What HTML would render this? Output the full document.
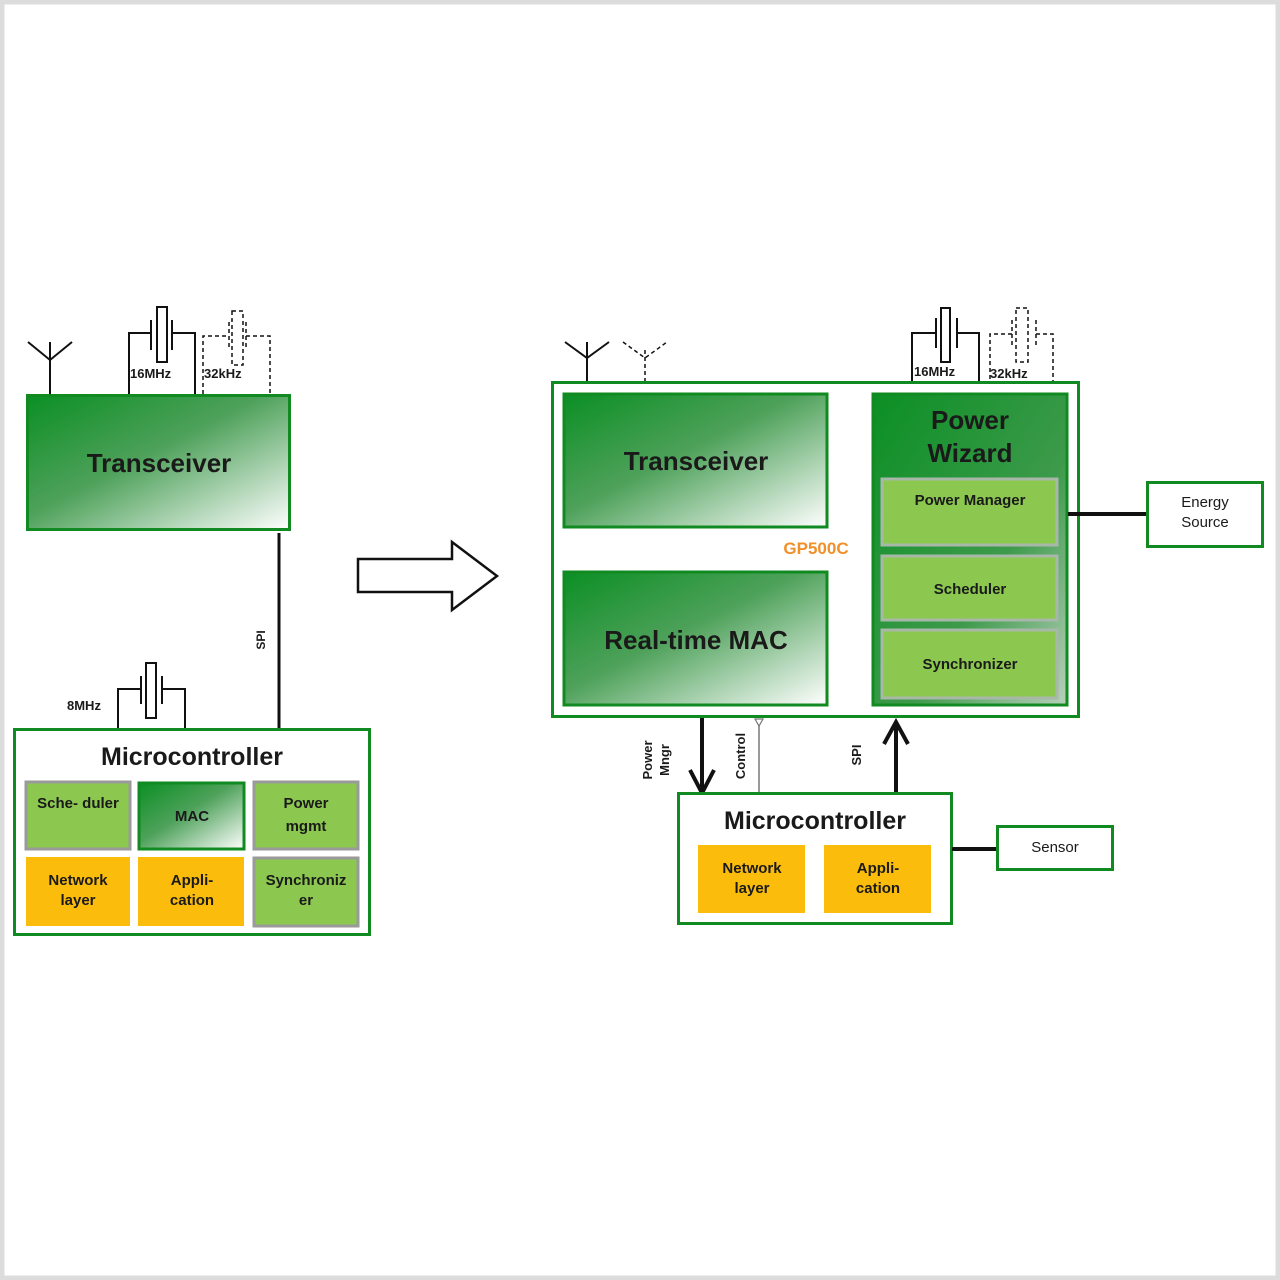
<!DOCTYPE html>
<html><head><meta charset="utf-8"><style>
html,body{margin:0;padding:0;background:#fff}
svg{display:block}
text{font-family:"Liberation Sans",sans-serif;font-weight:bold;fill:#1a1a1a}
</style></head><body>
<svg width="1280" height="1280" viewBox="0 0 1280 1280" xmlns="http://www.w3.org/2000/svg">
<defs>
<linearGradient id="g" x1="0" y1="0" x2="1" y2="1">
<stop offset="0" stop-color="#0b8f24"/><stop offset="0.45" stop-color="#4ea15a"/><stop offset="1" stop-color="#ffffff"/>
</linearGradient>
<linearGradient id="pw" x1="0" y1="0" x2="1" y2="1">
<stop offset="0" stop-color="#0b8f24"/><stop offset="0.6" stop-color="#3d9a4b"/><stop offset="1" stop-color="#b8d0bb"/>
</linearGradient>
</defs>
<rect x="2" y="2" width="1276" height="1276" fill="#fff" stroke="#dcdcdc" stroke-width="5"/>

<!-- LEFT -->
<!-- antenna -->
<g stroke="#111" stroke-width="2" fill="none">
<polyline points="28,342 50,360 72,342"/><line x1="50" y1="342" x2="50" y2="394"/>
<polyline points="129,394 129,333 151,333"/><polyline points="172,333 195,333 195,394"/>
<line x1="151" y1="320" x2="151" y2="350"/><line x1="172" y1="320" x2="172" y2="350"/>
<rect x="157" y="307" width="10" height="55"/>
</g>
<g stroke="#111" stroke-width="1.5" fill="none" stroke-dasharray="4,3">
<polyline points="203,394 203,336 229,336"/><polyline points="246,336 270,336 270,394"/>
<line x1="229" y1="322" x2="229" y2="350"/><line x1="246" y1="322" x2="246" y2="350"/>
<rect x="232" y="311" width="11" height="54"/>
</g>
<text x="130" y="378" font-size="13">16MHz</text>
<text x="204" y="378" font-size="13">32kHz</text>
<rect x="27.5" y="395.5" width="262" height="134" fill="url(#g)" stroke="#128a22" stroke-width="3"/>
<text x="159" y="472" font-size="26" text-anchor="middle">Transceiver</text>
<!-- SPI -->
<line x1="279" y1="533" x2="279" y2="729" stroke="#111" stroke-width="3"/>
<text transform="translate(265,640) rotate(-90)" font-size="12" text-anchor="middle">SPI</text>
<!-- 8MHz -->
<g stroke="#111" stroke-width="2" fill="none">
<polyline points="118,729 118,689 141,689"/><polyline points="162,689 185,689 185,729"/>
<line x1="141" y1="676" x2="141" y2="704"/><line x1="162" y1="676" x2="162" y2="704"/>
<rect x="146" y="663" width="10" height="55"/>
</g>
<text x="67" y="710" font-size="13">8MHz</text>
<rect x="14.5" y="729.5" width="355" height="205" fill="#fff" stroke="#128a22" stroke-width="3"/>
<text x="192" y="765" font-size="25" text-anchor="middle">Microcontroller</text>
<g stroke="#9a9a9a" stroke-width="3">
<rect x="26" y="782" width="104" height="67" fill="#8cc850"/>
<rect x="254" y="782" width="104" height="67" fill="#8cc850"/>
<rect x="254" y="858" width="104" height="68" fill="#8cc850"/>
</g>
<rect x="139" y="783" width="105" height="66" fill="url(#g)" stroke="#128a22" stroke-width="3"/>
<rect x="26" y="857" width="104" height="69" fill="#fbbc0c"/>
<rect x="138" y="857" width="106" height="69" fill="#fbbc0c"/>
<g font-size="15" text-anchor="middle">
<text x="78" y="808">Sche- duler</text>
<text x="192" y="821">MAC</text>
<text x="306" y="808">Power</text><text x="306" y="831">mgmt</text>
<text x="78" y="885">Network</text><text x="78" y="905">layer</text>
<text x="192" y="885">Appli-</text><text x="192" y="905">cation</text>
<text x="306" y="885">Synchroniz</text><text x="306" y="905">er</text>
</g>

<!-- big arrow -->
<polygon points="358,559 452,559 452,542 497,576 452,610 452,592 358,592" fill="#fff" stroke="#111" stroke-width="2.5"/>

<!-- RIGHT -->
<g stroke="#111" stroke-width="2" fill="none">
<polyline points="565,342 587,358 609,342"/><line x1="587" y1="342" x2="587" y2="381"/>
<polyline points="912,393 912,333 936,333"/><polyline points="957,333 979,333 979,393"/>
<line x1="936" y1="318" x2="936" y2="348"/><line x1="957" y1="318" x2="957" y2="348"/>
<rect x="941" y="308" width="9" height="54"/>
</g>
<g stroke="#111" stroke-width="1.5" fill="none" stroke-dasharray="4,3">
<polyline points="623,342 645,358 667,342"/><line x1="645" y1="350" x2="645" y2="381"/>
<polyline points="990,393 990,334 1012,334"/><polyline points="1036,334 1053,334 1053,393"/>
<line x1="1012" y1="320" x2="1012" y2="348"/><line x1="1036" y1="320" x2="1036" y2="348"/>
<rect x="1016" y="308" width="12" height="54"/>
</g>
<text x="914" y="376" font-size="13">16MHz</text>
<text x="990" y="378" font-size="13">32kHz</text>
<rect x="552.5" y="382.5" width="526" height="334" fill="#fff" stroke="#128a22" stroke-width="3"/>
<rect x="564" y="394" width="263" height="133" fill="url(#g)" stroke="#128a22" stroke-width="3"/>
<text x="696" y="470" font-size="26" text-anchor="middle">Transceiver</text>
<rect x="564" y="572" width="263" height="133" fill="url(#g)" stroke="#128a22" stroke-width="3"/>
<text x="696" y="649" font-size="26" text-anchor="middle">Real-time MAC</text>
<text x="816" y="554" font-size="17" fill="#f08a1c" style="fill:#f0902a" text-anchor="middle">GP500C</text>
<rect x="873" y="394" width="194" height="311" fill="url(#pw)" stroke="#128a22" stroke-width="3"/>
<text x="970" y="429" font-size="26" text-anchor="middle">Power</text>
<text x="970" y="462" font-size="26" text-anchor="middle">Wizard</text>
<g stroke="#a8b8a8" stroke-width="3" fill="#8cc850">
<rect x="882" y="479" width="175" height="66"/>
<rect x="882" y="556" width="175" height="64"/>
<rect x="882" y="630" width="175" height="68"/>
</g>
<g font-size="15" text-anchor="middle">
<text x="970" y="505">Power  Manager</text>
<text x="970" y="594">Scheduler</text>
<text x="970" y="669">Synchronizer</text>
</g>
<line x1="1068" y1="514" x2="1147" y2="514" stroke="#111" stroke-width="4"/>
<rect x="1147.5" y="482.5" width="115" height="64" fill="#fff" stroke="#128a22" stroke-width="3"/>
<text x="1205" y="507" font-size="15" text-anchor="middle" style="font-weight:normal">Energy</text>
<text x="1205" y="527" font-size="15" text-anchor="middle" style="font-weight:normal">Source</text>

<!-- connectors bottom -->
<line x1="702" y1="718" x2="702" y2="793" stroke="#111" stroke-width="4"/>
<polyline points="690,770 702,793 714,770" stroke="#111" stroke-width="4" fill="none"/>
<line x1="759" y1="724" x2="759" y2="793" stroke="#777" stroke-width="1.5"/>
<polygon points="755,719 763,719 759,726" fill="#fff" stroke="#777" stroke-width="1.2"/>
<line x1="896" y1="722" x2="896" y2="793" stroke="#111" stroke-width="4"/>
<polyline points="884,744 896,722 908,744" stroke="#111" stroke-width="4" fill="none"/>
<text transform="translate(652,760) rotate(-90)" font-size="13" text-anchor="middle">Power</text>
<text transform="translate(669,760) rotate(-90)" font-size="13" text-anchor="middle">Mngr</text>
<text transform="translate(745,756) rotate(-90)" font-size="13" text-anchor="middle">Control</text>
<text transform="translate(861,755) rotate(-90)" font-size="13" text-anchor="middle">SPI</text>

<rect x="678.5" y="793.5" width="273" height="130" fill="#fff" stroke="#128a22" stroke-width="3"/>
<text x="815" y="829" font-size="25" text-anchor="middle">Microcontroller</text>
<rect x="698" y="845" width="107" height="68" fill="#fbbc0c"/>
<rect x="824" y="845" width="107" height="68" fill="#fbbc0c"/>
<g font-size="15" text-anchor="middle">
<text x="752" y="873">Network</text><text x="752" y="893">layer</text>
<text x="878" y="873">Appli-</text><text x="878" y="893">cation</text>
</g>
<line x1="952" y1="849" x2="997" y2="849" stroke="#111" stroke-width="4"/>
<rect x="997.5" y="826.5" width="115" height="43" fill="#fff" stroke="#128a22" stroke-width="3"/>
<text x="1055" y="852" font-size="15" text-anchor="middle" style="font-weight:normal">Sensor</text>
</svg>
</body></html>
